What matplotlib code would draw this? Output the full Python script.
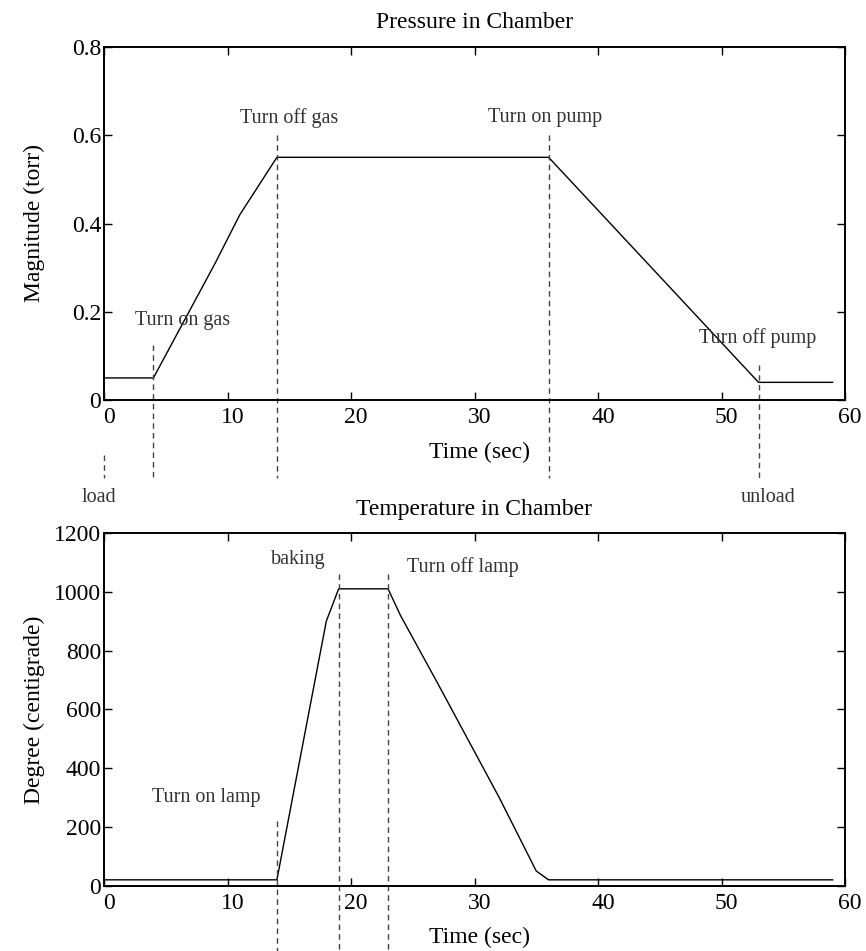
import matplotlib
matplotlib.use("Agg")
import matplotlib.pyplot as plt
import matplotlib.transforms as mtransforms

# ---- data ----
p_time = [0, 4, 9, 11, 14, 36, 40, 46, 53, 59]
p_val = [0.05, 0.05, 0.31, 0.42, 0.55, 0.55, 0.43, 0.25, 0.04, 0.04]

t_time = [0, 14, 18, 19, 23, 24, 27, 32, 35, 36, 59]
t_val = [20, 20, 900, 1010, 1010, 920, 690, 300, 50, 20, 20]

p_events = [0, 4, 14, 36, 53]
p_event_top = [-0.125, 0.125, 0.6, 0.6, 0.08]
p_event_bottom = -0.177
p_labels = ["Turn on gas", "Turn off gas", "Turn on pump", "Turn off pump"]
p_label_xy = [(2.5, 0.18), (11.0, 0.64), (31.1, 0.64), (48.2, 0.14)]
load_labels = ["load", "unload"]
load_label_xy = [(-0.4, -0.22), (53.8, -0.22)]

t_events = [14, 19, 23]
t_event_top = [220, 1060, 1060]
t_event_bottom = -240
t_labels = ["Turn on lamp", "baking", "Turn off lamp"]
t_label_xy = [(3.9, 300), (13.5, 1110), (24.5, 1083)]

xticks = [0, 10, 20, 30, 40, 50, 60]
p_yticks = [0, 0.2, 0.4, 0.6, 0.8]
p_yticklabels = ["0", "0.2", "0.4", "0.6", "0.8"]
t_yticks = [0, 200, 400, 600, 800, 1000, 1200]

# ---- style ----
plt.rcParams['font.family'] = ['Liberation Serif', 'DejaVu Serif']
FS = 17
AFS = 14.5
ACOL = '#333333'
DCOL = '#444444'

fig = plt.figure(figsize=(8.66, 9.51), dpi=100)
W, H = 866, 951
ax1 = fig.add_axes([104 / W, 1 - 400 / H, 741 / W, 353 / H])
ax2 = fig.add_axes([104 / W, 1 - 885.7 / H, 741 / W, 352.7 / H])

shift = mtransforms.ScaledTranslation(5 / 100, 0, fig.dpi_scale_trans)

def style(ax):
    for s in ax.spines.values():
        s.set_linewidth(1.4)
    ax.tick_params(direction='in', length=6, width=1, top=True, right=True,
                   labelsize=FS, pad=5)
    ax.tick_params(axis='y', pad=2)
    ax.set_xlim(0, 60)
    ax.set_xticks(xticks)
    ax.set_xticklabels([str(v) for v in xticks])
    for lab in ax.get_xticklabels():
        lab.set_transform(lab.get_transform() + shift)

# top panel
style(ax1)
ax1.set_ylim(0, 0.8)
ax1.set_yticks(p_yticks)
ax1.set_yticklabels(p_yticklabels)
ax1.plot(p_time, p_val, color='black', lw=1.0)
for x, top in zip(p_events, p_event_top):
    ax1.plot([x, x], [top, p_event_bottom], ls=(0, (4, 3)), color=DCOL, lw=1.0, clip_on=False)
for lab, (x, y) in zip(p_labels, p_label_xy):
    ax1.text(x, y, lab, fontsize=AFS, color=ACOL, ha='left', va='center', clip_on=False)
for lab, (x, y) in zip(load_labels, load_label_xy):
    ax1.text(x, y, lab, fontsize=AFS, color=ACOL, ha='center', va='center', clip_on=False)
ax1.text(0.5, 1.068, "Pressure in Chamber", transform=ax1.transAxes, ha='center', va='center', fontsize=FS)
ax1.text(0.507, -0.150, "Time (sec)", transform=ax1.transAxes, ha='center', va='center', fontsize=FS)
ax1.set_ylabel("Magnitude (torr)", fontsize=FS)
ax1.yaxis.set_label_coords(-0.08, 0.5)

# bottom panel
style(ax2)
ax2.set_ylim(0, 1200)
ax2.set_yticks(t_yticks)
ax2.set_yticklabels([str(v) for v in t_yticks])
ax2.plot(t_time, t_val, color='black', lw=1.0)
for x, top in zip(t_events, t_event_top):
    ax2.plot([x, x], [top, t_event_bottom], ls=(0, (4, 3)), color=DCOL, lw=1.0, clip_on=False)
for lab, (x, y) in zip(t_labels, t_label_xy):
    ax2.text(x, y, lab, fontsize=AFS, color=ACOL, ha='left', va='center', clip_on=False)
ax2.text(0.5, 1.068, "Temperature in Chamber", transform=ax2.transAxes, ha='center', va='center', fontsize=FS)
ax2.text(0.507, -0.148, "Time (sec)", transform=ax2.transAxes, ha='center', va='center', fontsize=FS)
ax2.set_ylabel("Degree (centigrade)", fontsize=FS)
ax2.yaxis.set_label_coords(-0.08, 0.5)

fig.savefig("out.png", dpi=100)
